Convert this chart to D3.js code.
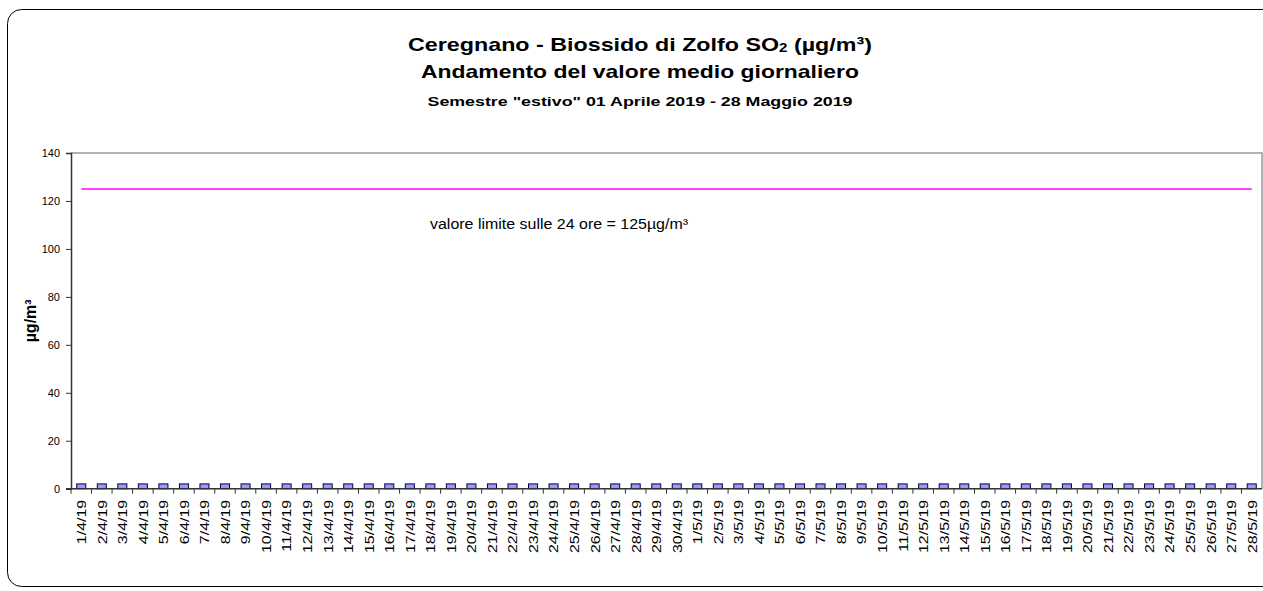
<!DOCTYPE html>
<meta charset="utf-8">
<head>
  <title>Ceregnano SO2</title>
</head>

<style>
body { margin: 0; background: #fff; }
text { font-family: Arial, "Liberation Sans", sans-serif; fill: #000; }
</style>

<body>
  <svg width="1263" height="591"></svg>

  <script src="https://cdnjs.cloudflare.com/ajax/libs/d3/7.8.5/d3.min.js"></script>
  <script>
// dates of the period, 1 April - 28 May 2019
var days = ["1/4/19","2/4/19","3/4/19","4/4/19","5/4/19","6/4/19","7/4/19","8/4/19","9/4/19","10/4/19",
  "11/4/19","12/4/19","13/4/19","14/4/19","15/4/19","16/4/19","17/4/19","18/4/19","19/4/19","20/4/19",
  "21/4/19","22/4/19","23/4/19","24/4/19","25/4/19","26/4/19","27/4/19","28/4/19","29/4/19","30/4/19",
  "1/5/19","2/5/19","3/5/19","4/5/19","5/5/19","6/5/19","7/5/19","8/5/19","9/5/19","10/5/19",
  "11/5/19","12/5/19","13/5/19","14/5/19","15/5/19","16/5/19","17/5/19","18/5/19","19/5/19","20/5/19",
  "21/5/19","22/5/19","23/5/19","24/5/19","25/5/19","26/5/19","27/5/19","28/5/19"]

// daily mean SO2 (all at the detection limit)
var so2 = [2,2,2,2,2,2,2,2,2,2, 2,2,2,2,2,2,2,2,2,2, 2,2,2,2,2,2,2,2,2,2,
  2,2,2,2,2,2,2,2,2,2, 2,2,2,2,2,2,2,2,2,2, 2,2,2,2,2,2,2,2]

// 24h limit value
var limite = days.map(function() { return 125 })

var yTicks = [0, 20, 40, 60, 80, 100, 120, 140]

var svg = d3.select('svg')
// note: "top" is taken by window.top, so plotTop
var plotLeft = 71, plotRight = 1262, plotTop = 153, plotBottom = 488.7

// outer rounded frame (cut on the right side, like the original)
svg.append('rect')
  .attr('x', 7.5).attr('y', 9.5)
  .attr('width', 1270).attr('height', 577)
  .attr('rx', 14).attr('ry', 14)
  .attr('fill', 'none').attr('stroke', '#000').attr('stroke-width', 1)

var x = d3.scaleBand().domain(days).range([plotLeft, plotRight])
var y = d3.scaleLinear().domain([0, 140]).range([plotBottom, plotTop])

// plot area border (top and right)
svg.append('path')
  .attr('d', 'M' + plotLeft + ',' + y(140) + 'H' + plotRight + 'V' + plotBottom)
  .attr('fill', 'none').attr('stroke', '#999').attr('stroke-width', 1.5)

// bars
svg.append('g').selectAll('rect')
  .data(so2)
  .join('rect')
  .attr('x', function(d, i) { return x(days[i]) + x.bandwidth() * 0.28 })
  .attr('width', x.bandwidth() * 0.44)
  .attr('y', function(d) { return y(d) })
  .attr('height', function(d) { return y(0) - y(d) })
  .attr('fill', '#9999ff')
  .attr('stroke', '#000050')
  .attr('stroke-width', 1)

// limit line
var line = d3.line()
  .x(function(d, i) { return x(days[i]) + x.bandwidth() / 2 })
  .y(function(d) { return y(d) })

svg.append('path')
  .datum(limite)
  .attr('d', line)
  .attr('fill', 'none')
  .attr('stroke', '#ff00ff')
  .attr('stroke-width', 1.5)

// y axis
var yAxis = svg.append('g')
  .attr('transform', 'translate(' + plotLeft + ',0)')
  .call(d3.axisLeft(y).tickValues(yTicks).tickSize(5).tickPadding(6))
yAxis.select('.domain').attr('stroke', '#333').attr('stroke-width', 1.5)
yAxis.selectAll('.tick line').attr('stroke', '#333')
yAxis.selectAll('.tick text')
  .style('font-family', 'Arial, "Liberation Sans", sans-serif')
  .style('font-size', '11px').attr('fill', '#000')

// x axis: ticks between categories
var xAxis = svg.append('g')
  .attr('transform', 'translate(0,' + plotBottom + ')')
  .call(d3.axisBottom(x).tickSize(0).tickPadding(0))
xAxis.select('.domain').attr('stroke', '#333').attr('stroke-width', 1.5)
  .attr('d', 'M' + (plotLeft - 5) + ',0H' + plotRight)
xAxis.selectAll('.tick text')
  .attr('transform', 'rotate(-90) scale(1.18,1)')
  .attr('x', -9.5).attr('y', 0).attr('dy', '0.36em')
  .style('text-anchor', 'end')
  .style('font-family', 'Arial, "Liberation Sans", sans-serif')
  .style('font-size', '13.5px').attr('fill', '#000')

svg.append('g').selectAll('line')
  .data(days)
  .join('line')
  .attr('x1', function(d) { return x(d) }).attr('x2', function(d) { return x(d) })
  .attr('y1', plotBottom).attr('y2', plotBottom + 5)
  .attr('stroke', '#333')

// y label
svg.append('text')
  .attr('transform', 'translate(36,' + ((plotTop + plotBottom) / 2) + ') rotate(-90)')
  .attr('text-anchor', 'middle')
  .style('font-size', '16px').style('font-weight', 'bold')
  .text('µg/m³')

// annotation
svg.append('text')
  .attr('x', 430).attr('y', 229)
  .attr('textLength', 258).attr('lengthAdjust', 'spacingAndGlyphs')
  .style('font-size', '14px')
  .text('valore limite sulle 24 ore = 125µg/m³')

// titles
var t1 = svg.append('text')
  .attr('x', 640).attr('y', 51)
  .attr('text-anchor', 'middle')
  .attr('textLength', 464).attr('lengthAdjust', 'spacingAndGlyphs')
  .style('font-size', '18.5px').style('font-weight', 'bold')
t1.append('tspan').text('Ceregnano - Biossido di Zolfo SO')
t1.append('tspan').attr('dy', 1).style('font-size', '12px').text('2')
t1.append('tspan').attr('dy', -1).text(' (µg/m³)')

svg.append('text')
  .attr('x', 640).attr('y', 78)
  .attr('text-anchor', 'middle')
  .attr('textLength', 438).attr('lengthAdjust', 'spacingAndGlyphs')
  .style('font-size', '18.5px').style('font-weight', 'bold')
  .text('Andamento del valore medio giornaliero')

svg.append('text')
  .attr('x', 640).attr('y', 106)
  .attr('text-anchor', 'middle')
  .attr('textLength', 425).attr('lengthAdjust', 'spacingAndGlyphs')
  .style('font-size', '13px').style('font-weight', 'bold')
  .text('Semestre "estivo" 01 Aprile 2019 - 28 Maggio 2019')
  </script>
</body>
</html>
